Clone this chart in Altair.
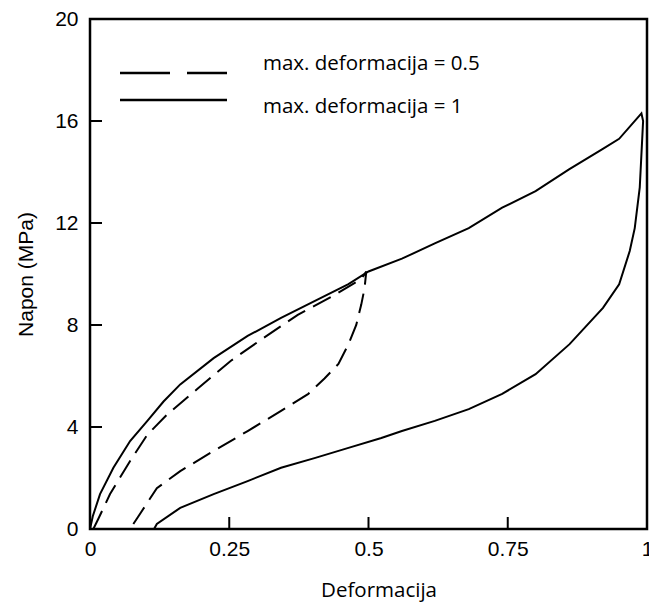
import altair as alt
import pandas as pd

# ---- data ----
solid_load_x = [0, 0.005, 0.018, 0.042, 0.072, 0.103, 0.132, 0.162, 0.222, 0.283, 0.343, 0.403, 0.464, 0.50, 0.56, 0.619, 0.68, 0.74, 0.80, 0.86, 0.92, 0.95, 0.99]
solid_load_y = [0, 0.5, 1.37, 2.4, 3.45, 4.24, 5.0, 5.67, 6.7, 7.57, 8.28, 8.94, 9.6, 10.1, 10.6, 11.2, 11.8, 12.6, 13.25, 14.1, 14.9, 15.3, 16.3]
solid_unload_x = [0.993, 0.987, 0.978, 0.969, 0.95, 0.921, 0.861, 0.80, 0.74, 0.68, 0.619, 0.56, 0.523, 0.464, 0.403, 0.343, 0.283, 0.222, 0.162, 0.12, 0.115]
solid_unload_y = [16.0, 13.4, 11.8, 10.9, 9.6, 8.67, 7.25, 6.07, 5.3, 4.7, 4.24, 3.84, 3.57, 3.18, 2.78, 2.4, 1.88, 1.37, 0.83, 0.2, 0]

dash_load_x = [0.006, 0.015, 0.036, 0.072, 0.103, 0.139, 0.193, 0.253, 0.312, 0.373, 0.433, 0.487, 0.496]
dash_load_y = [0, 0.4, 1.37, 2.67, 3.7, 4.5, 5.5, 6.6, 7.5, 8.4, 9.1, 9.8, 10.1]
dash_unload_x = [0.493, 0.487, 0.478, 0.464, 0.446, 0.421, 0.392, 0.343, 0.283, 0.222, 0.162, 0.12, 0.087, 0.072]
dash_unload_y = [9.45, 8.8, 8.0, 7.25, 6.47, 5.9, 5.3, 4.63, 3.84, 3.06, 2.27, 1.6, 0.5, 0.0]

legend_labels = ["max. deformacija = 0.5", "max. deformacija = 1"]
x_ticks = [0, 0.25, 0.5, 0.75, 1]
y_ticks = [0, 4, 8, 12, 16, 20]

W, H = 557, 510

def path(xs, ys, name):
    return pd.DataFrame({"x": xs, "y": ys, "series": name, "order": range(len(xs))})

solid = path(solid_load_x + solid_unload_x, solid_load_y + solid_unload_y, legend_labels[1])
dashed = path(dash_load_x + dash_unload_x, dash_load_y + dash_unload_y, legend_labels[0])

xscale = alt.Scale(domain=[0, 1], nice=False, zero=False)
yscale = alt.Scale(domain=[0, 20], nice=False)

xaxis = alt.Axis(values=x_ticks, labelExpr="datum.value + ''", grid=False, domain=False, ticks=False,
                 labelFont="Liberation Sans", labelFontSize=21, labelColor="black", labelPadding=9,
                 labelFlush=False, labelOverlap=False, labelBound=False,
                 title="Deformacija", titleFont="Open Sans", titleFontSize=20.5, titleFontWeight="normal",
                 titleColor="black", titleX=W / 2 + 10, titleY=67, titleAlign="center",
                 titleBaseline="alphabetic")
yaxis = alt.Axis(values=y_ticks, grid=False, domain=False, ticks=False,
                 labelFont="Liberation Sans", labelFontSize=21, labelColor="black", labelPadding=12,
                 labelFlush=False, labelOverlap=False, labelBound=False,
                 title="Napon (MPa)", titleFont="Liberation Sans", titleFontSize=21, titleFontWeight="normal",
                 titleColor="black", titlePadding=18)

solid_line = alt.Chart(solid).mark_line(color="black", strokeWidth=2).encode(
    x=alt.X("x:Q", scale=xscale, axis=xaxis),
    y=alt.Y("y:Q", scale=yscale, axis=yaxis),
    order="order:Q",
)
dashed_line = alt.Chart(dashed).mark_line(color="black", strokeWidth=2, strokeDash=[20, 9]).encode(
    x=alt.X("x:Q", scale=xscale),
    y=alt.Y("y:Q", scale=yscale),
    order="order:Q",
)

# inward ticks
xt = pd.DataFrame({"v": x_ticks[1:-1]})
yt = pd.DataFrame({"v": y_ticks[1:]})
xtick = alt.Chart(xt).mark_rule(color="black", strokeWidth=2).encode(
    x=alt.X("v:Q", scale=xscale), y=alt.value(H), y2=alt.value(H - 12))
ytick = alt.Chart(yt).mark_rule(color="black", strokeWidth=2).encode(
    y=alt.Y("v:Q", scale=yscale), x=alt.value(0), x2=alt.value(12))

# manual legend
leg = pd.DataFrame({"label": legend_labels, "ty": [51, 94]})
leg_dash = alt.Chart(leg.iloc[[0]]).mark_rule(color="black", strokeWidth=2.5, strokeDash=[50, 17]).encode(
    x=alt.value(30), x2=alt.value(137), y=alt.value(54))
leg_solid = alt.Chart(leg.iloc[[1]]).mark_rule(color="black", strokeWidth=2.5).encode(
    x=alt.value(30), x2=alt.value(137), y=alt.value(81))
leg_text = alt.Chart(leg).mark_text(align="left", baseline="alphabetic", font="Open Sans", fontSize=20.5,
                                    color="black").encode(
    x=alt.value(173), y=alt.Y("ty:Q", scale=None), text="label:N")

chart = alt.layer(solid_line, dashed_line, xtick, ytick, leg_dash, leg_solid, leg_text).properties(
    width=W, height=H,
    background="white",
    autosize=alt.AutoSizeParams(type="none"),
    padding={"left": 90, "top": 19, "right": 2, "bottom": 74},
).configure_view(stroke="black", strokeWidth=2.5).configure_axis(
    ticks=False, domain=False, grid=False
)

chart.save("out.html", embed_options={"renderer": "svg", "actions": False})
